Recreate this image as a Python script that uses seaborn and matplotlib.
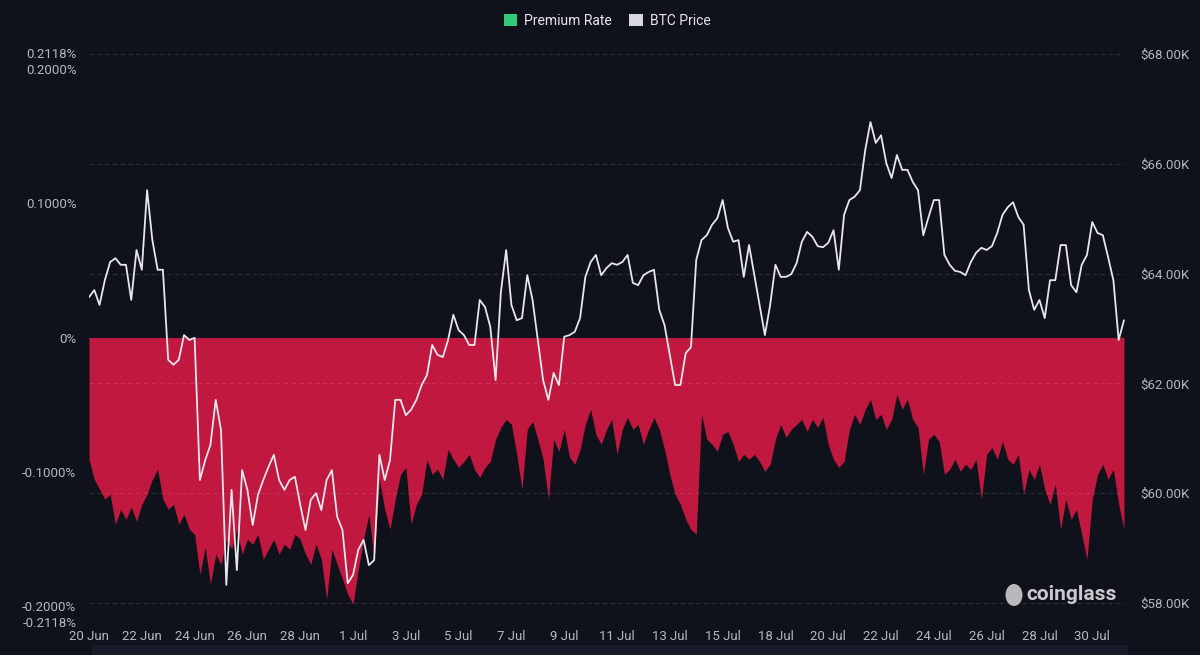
import pandas as pd
import matplotlib
matplotlib.use('Agg')
import matplotlib.pyplot as plt
from matplotlib.patches import Patch, Rectangle, Ellipse
import seaborn as sns

# x axis labels, one every 10 samples
tick_labels = ['20 Jun', '22 Jun', '24 Jun', '26 Jun', '28 Jun', '1 Jul', '3 Jul',
               '5 Jul', '7 Jul', '9 Jul', '11 Jul', '13 Jul', '15 Jul', '18 Jul',
               '20 Jul', '22 Jul', '24 Jul', '26 Jul', '28 Jul', '30 Jul']

# premium rate in %
premium_rate = [
    -0.0907, -0.1056, -0.1130, -0.1204, -0.1167, -0.1390, -0.1279, -0.1353, -0.1264, -0.1368,
    -0.1242, -0.1167, -0.1056, -0.0981, -0.1204, -0.1279, -0.1242, -0.1390, -0.1316, -0.1428,
    -0.1465, -0.1762, -0.1561, -0.1836, -0.1613, -0.1688, -0.1502, -0.1576, -0.1428, -0.1613,
    -0.1502, -0.1539, -0.1465, -0.1651, -0.1576, -0.1502, -0.1613, -0.1539, -0.1576, -0.1465,
    -0.1502, -0.1613, -0.1688, -0.1539, -0.1651, -0.1948, -0.1576, -0.1688, -0.1799, -0.1911,
    -0.1985, -0.1725, -0.1502, -0.1316, -0.1651, -0.1056, -0.1279, -0.1428, -0.1204, -0.1019,
    -0.0967, -0.1390, -0.1242, -0.1167, -0.0907, -0.1019, -0.0981, -0.1056, -0.0833, -0.0907,
    -0.0967, -0.0922, -0.0870, -0.0981, -0.1041, -0.0967, -0.0922, -0.0758, -0.0669, -0.0610,
    -0.0647, -0.0870, -0.1130, -0.0684, -0.0625, -0.0758, -0.0907, -0.1204, -0.0758, -0.0848,
    -0.0684, -0.0892, -0.0944, -0.0833, -0.0647, -0.0535, -0.0721, -0.0796, -0.0684, -0.0610,
    -0.0870, -0.0684, -0.0595, -0.0684, -0.0647, -0.0796, -0.0684, -0.0595, -0.0684, -0.0833,
    -0.1019, -0.1167, -0.1242, -0.1353, -0.1428, -0.1465, -0.0572, -0.0758, -0.0796, -0.0848,
    -0.0721, -0.0699, -0.0796, -0.0922, -0.0870, -0.0907, -0.0870, -0.0922, -0.0996, -0.0944,
    -0.0758, -0.0647, -0.0743, -0.0684, -0.0647, -0.0610, -0.0699, -0.0610, -0.0669, -0.0595,
    -0.0796, -0.0907, -0.0967, -0.0922, -0.0684, -0.0572, -0.0647, -0.0535, -0.0461, -0.0610,
    -0.0572, -0.0684, -0.0610, -0.0424, -0.0535, -0.0461, -0.0610, -0.0669, -0.1019, -0.0758,
    -0.0721, -0.0773, -0.1019, -0.0981, -0.0907, -0.0996, -0.0944, -0.0981, -0.0907, -0.1204,
    -0.0870, -0.0818, -0.0907, -0.0773, -0.0907, -0.0944, -0.0870, -0.1167, -0.0981, -0.1056,
    -0.0944, -0.1130, -0.1242, -0.1093, -0.1428, -0.1204, -0.1353, -0.1279, -0.1465, -0.1651,
    -0.1204, -0.1019, -0.0944, -0.1056, -0.0981, -0.1242, -0.1428,
]

# BTC price in USD
btc_price = [
    63570, 63700, 63430, 63880, 64210, 64280, 64160, 64160, 63520, 64430,
    64070, 65520, 64610, 64070, 64070, 62430, 62340, 62430, 62880, 62790,
    62830, 60240, 60600, 60880, 61700, 61150, 58330, 60060, 58600, 60420,
    60060, 59420, 59970, 60240, 60480, 60700, 60240, 60060, 60240, 60300,
    59790, 59330, 59880, 60000, 59690, 60240, 60420, 59570, 59330, 58360,
    58510, 58970, 59150, 58690, 58780, 60700, 60240, 60600, 61700, 61700,
    61420, 61520, 61700, 61970, 62150, 62700, 62520, 62480, 62790, 63250,
    62970, 62880, 62700, 62700, 63520, 63390, 63030, 62060, 63660, 64430,
    63430, 63150, 63190, 63970, 63520, 62790, 62060, 61700, 62190, 61970,
    62850, 62880, 62940, 63190, 63940, 64210, 64340, 63970, 64100, 64190,
    64160, 64210, 64340, 63830, 63790, 63970, 64030, 64070, 63340, 63060,
    62520, 61970, 61970, 62550, 62660, 64250, 64610, 64700, 64890, 65010,
    65340, 64830, 64580, 64610, 63940, 64520, 63970, 63430, 62880, 63430,
    64160, 63940, 63940, 63990, 64190, 64580, 64760, 64670, 64500, 64480,
    64560, 64790, 64070, 65070, 65340, 65400, 65520, 66250, 66760, 66380,
    66520, 66010, 65740, 66160, 65890, 65890, 65670, 65520, 64700, 65030,
    65340, 65340, 64340, 64160, 64050, 64030, 63970, 64210, 64380, 64470,
    64430, 64500, 64740, 65070, 65210, 65300, 65030, 64890, 63700, 63340,
    63520, 63190, 63880, 63880, 64520, 64520, 63790, 63660, 64160, 64340,
    64940, 64740, 64700, 64300, 63880, 62790, 63150,
]

left_ticks = [0.2118, 0.2, 0.1, 0, -0.1, -0.2, -0.2118]
left_labels = ['0.2118%', '0.2000%', '0.1000%', '0%', '-0.1000%', '-0.2000%', '-0.2118%']
right_ticks = [58000, 60000, 62000, 64000, 66000, 68000]

df = pd.DataFrame({'step': range(len(btc_price)), 'premium': premium_rate, 'price': btc_price})

bg = '#0f121a'
red = '#c0183f'
line_c = '#e6e6ec'
tick_c = '#b4b7bf'

sns.set_theme(style='dark')
plt.rcParams['font.family'] = ['Roboto', 'DejaVu Sans']

fig = plt.figure(figsize=(12, 6.55), dpi=100, facecolor=bg)
ax = fig.add_axes([89 / 1200, 1 - 622 / 655, 1036 / 1200, 569 / 655])
ax.set_facecolor(bg)

ax.fill_between(df['step'], 0, df['premium'], color=red, linewidth=0, zorder=1)
ax.axhline(-0.2118, color='white', alpha=0.13, linestyle=(0, (4, 3)), linewidth=0.8)
ax.set_ylim(-0.2118, 0.2118)
ax.set_xlim(0, len(btc_price) - 0.8)
ax.set_yticks(left_ticks)
ax.set_yticklabels(left_labels)
ax.set_xticks(range(0, 10 * len(tick_labels), 10))
ax.set_xticklabels(tick_labels)
ax.tick_params(axis='both', length=0, colors=tick_c, labelsize=9.5)
ax.tick_params(axis='y', pad=9)
ax.tick_params(axis='x', pad=6)
ax.grid(False)
for s in ax.spines.values():
    s.set_visible(False)

ax2 = ax.twinx()
sns.lineplot(data=df, x='step', y='price', ax=ax2, color=line_c, linewidth=1.3)
ax2.set_ylim(57654, 68018)
ax2.set_yticks(right_ticks)
ax2.set_yticklabels([f'${v / 1000:.2f}K' for v in right_ticks])
ax2.tick_params(axis='y', length=0, colors=tick_c, labelsize=9.5, pad=11)
ax2.grid(axis='y', color='white', alpha=0.13, linestyle=(0, (4, 3)), linewidth=0.8)
ax2.grid(axis='x', visible=False)
ax2.set_xlabel('')
ax2.set_ylabel('')
ax.set_xlabel('')
ax.set_ylabel('')
for s in ax2.spines.values():
    s.set_visible(False)

# navigator strip under the axis
fig.patches.append(Rectangle((92 / 1200, 0), 1036 / 1200, 10 / 655, transform=fig.transFigure,
                             facecolor='#171b2a', edgecolor='none'))

# watermark
fig.patches.append(Ellipse((1014 / 1200, 1 - 595 / 655), 17 / 1200, 22 / 655,
                           transform=fig.transFigure, facecolor='#b9b9bd', edgecolor='none'))
fig.text(1117 / 1200, 1 - 594 / 655, 'coinglass', ha='right', va='center', fontsize=15,
         fontweight='bold', color='#c9c9ce')

handles = [Patch(facecolor='#33c97a', edgecolor='none'), Patch(facecolor='#d9d9e1', edgecolor='none')]
fig.legend(handles, ['Premium Rate', 'BTC Price'], loc='center', bbox_to_anchor=(607 / 1200, 1 - 21 / 655),
           ncol=2, frameon=False, fontsize=10, labelcolor='#e8e8ec', handlelength=1.0,
           handleheight=1.0, handletextpad=0.5, columnspacing=1.2)

fig.savefig('out.png', dpi=100, facecolor=bg)
